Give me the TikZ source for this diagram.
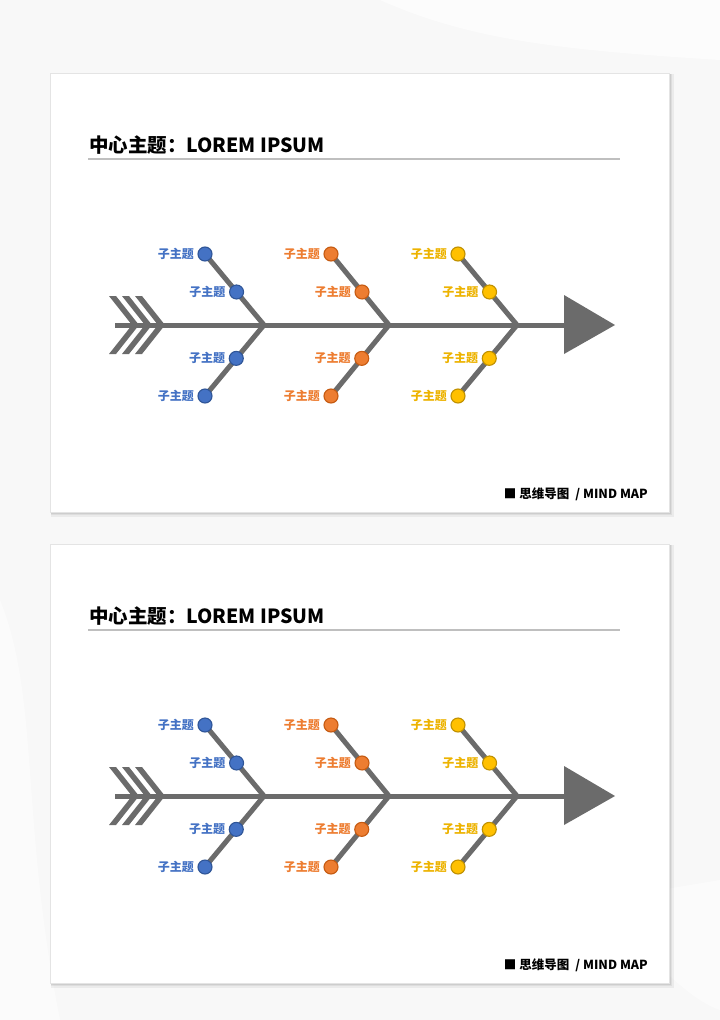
\documentclass[tikz,border=0pt]{standalone}
\usepackage{fontspec}
\setmainfont{Noto Sans CJK SC}
\usetikzlibrary{calc}
\definecolor{bone}{HTML}{6B6B6B}
\definecolor{cblue}{HTML}{4472C4}\definecolor{cblueD}{HTML}{2F5597}
\definecolor{corange}{HTML}{ED7D31}\definecolor{corangeD}{HTML}{C55A11}
\definecolor{cyellow}{HTML}{FFC000}\definecolor{cyellowD}{HTML}{BF9000}
\definecolor{tyellow}{HTML}{EDB300}
\definecolor{pagebg}{HTML}{F8F8F8}
\definecolor{rulegray}{HTML}{BFBFBF}
\definecolor{paneledge}{HTML}{E4E4E4}
\pgfdeclarelayer{back}\pgfdeclarelayer{mid}
\pgfsetlayers{back,mid,main}
\tikzset{
  bonestyle/.style={draw=bone, line width=5pt},
  dot/.style={circle, minimum size=14pt, inner sep=0pt, line width=1.1pt},
  sublabel/.style={font=\bfseries\fontsize{12}{13}\selectfont, inner sep=0pt, anchor=east},
  titletext/.style={font=\bfseries\fontsize{19.5}{21}\selectfont, inner sep=0pt, anchor=base west},
  foottext/.style={font=\bfseries\fontsize{12.5}{13}\selectfont, inner sep=0pt, anchor=base east},
}
\newcommand\fishpanel[2]{%
\begin{scope}[shift={(0,#2)}]
  \begin{pgfonlayer}{back}
    \fill[black, opacity=0.05] (51,74) rectangle (674,517);
    \fill[black, opacity=0.06] (51,74) rectangle (672,515);
    \fill[black, opacity=0.07] (51,74) rectangle (671,514);
    \fill[white, draw=paneledge, line width=0.6pt] (50,73) rectangle (669,512);
  \end{pgfonlayer}
  \node[titletext] (#1-title) at (89,152) {中心主题：LOREM IPSUM};
  \draw[rulegray, line width=1.2pt] (88,159) -- (620,159);
  \node[foottext] (#1-foot) at (648,498) {■\hspace{3pt}思维导图\hspace{6pt}/ MIND MAP};
  % spine
  \coordinate (#1-tail) at (115,325);
  \coordinate (#1-head) at (566,325);
  \begin{pgfonlayer}{mid}
    \draw[bonestyle] (#1-tail) -- (#1-head);
    \fill[bone] (564,295) -- (615,325) -- (564,354) -- cycle;
    \foreach \ax in {132,145,158}{
      \fill[bone] (\ax-23,296) -- (\ax-16,296) -- (\ax+7,325) -- (\ax-16,354) -- (\ax-23,354) -- (\ax,325) -- cycle;
    }
  \end{pgfonlayer}
  \foreach \nm/\ox/\jx/\cf/\cd/\ct in {b/205/264/cblue/cblueD/cblue, o/331/389/corange/corangeD/corange, y/458/517/cyellow/cyellowD/tyellow}{
    \coordinate (#1-\nm-j) at (\jx,325);
    \node[dot, fill=\cf, draw=\cd] (#1-\nm-uo) at (\ox,254) {};
    \node[dot, fill=\cf, draw=\cd] (#1-\nm-lo) at (\ox,396) {};
    \node[dot, fill=\cf, draw=\cd] (#1-\nm-ui) at ($(#1-\nm-uo)!0.535!(#1-\nm-j)$) {};
    \node[dot, fill=\cf, draw=\cd] (#1-\nm-li) at ($(#1-\nm-lo)!0.53!(#1-\nm-j)$) {};
    \begin{pgfonlayer}{mid}
      \draw[bonestyle] (#1-\nm-uo.center) -- (#1-\nm-ui.center) -- (#1-\nm-j);
      \draw[bonestyle] (#1-\nm-lo.center) -- (#1-\nm-li.center) -- (#1-\nm-j);
    \end{pgfonlayer}
    \node[sublabel, text=\ct] (#1-\nm-uo-t) at ([xshift=-11pt]#1-\nm-uo.center) {子主题};
    \node[sublabel, text=\ct] (#1-\nm-lo-t) at ([xshift=-11pt]#1-\nm-lo.center) {子主题};
    \node[sublabel, text=\ct] (#1-\nm-ui-t) at ([xshift=-11pt]#1-\nm-ui.center) {子主题};
    \node[sublabel, text=\ct] (#1-\nm-li-t) at ([xshift=-11pt]#1-\nm-li.center) {子主题};
  }
\end{scope}}
\begin{document}
\begin{tikzpicture}[x=1pt, y=-1pt]
  \begin{pgfonlayer}{back}
    \fill[pagebg] (0,0) rectangle (720,1020);
    \fill[white, opacity=0.6] (380,0) .. controls (470,40) and (560,50) .. (720,60) -- (720,0) -- cycle;
    \fill[white, opacity=0.5] (0,600) .. controls (40,700) and (20,820) .. (60,1020) -- (0,1020) -- cycle;
    \fill[white, opacity=0.5] (600,900) .. controls (650,960) and (690,1000) .. (720,1010) -- (720,880) -- cycle;
  \end{pgfonlayer}
  \useasboundingbox (0,0) rectangle (720,1020);
  \fishpanel{p1}{0}
  \fishpanel{p2}{471}
\end{tikzpicture}
\end{document}
